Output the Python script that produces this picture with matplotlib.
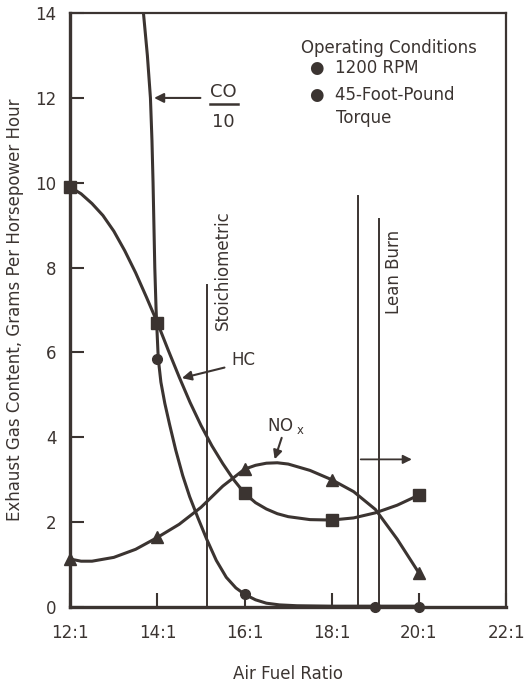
import matplotlib
matplotlib.use("Agg")
import matplotlib.pyplot as plt

plt.rcParams['font.family'] = ['DejaVu Sans']
plt.rcParams['mathtext.default'] = 'regular'
ink = '#3b3431'

# measured points (air fuel ratio, grams per hp-hr)
hc_x = [12, 14, 16, 18, 20]
hc_y = [9.9, 6.7, 2.68, 2.05, 2.64]
nox_x = [12, 14, 16, 18, 20]
nox_y = [1.13, 1.64, 3.25, 3.0, 0.8]
co_x = [14, 16, 19, 20]
co_y = [5.85, 0.3, 0.0, 0.0]

# curves
hc_cx = [12, 12.25, 12.5, 12.75, 13, 13.25, 13.5, 13.75, 14, 14.25, 14.5, 14.75, 15,
         15.25, 15.5, 15.75, 16, 16.25, 16.5, 16.75, 17, 17.5, 18, 18.5, 19, 19.5, 20]
hc_cy = [9.9, 9.74, 9.51, 9.23, 8.86, 8.4, 7.88, 7.3, 6.7, 6.05, 5.42, 4.82, 4.28,
         3.8, 3.38, 3.0, 2.68, 2.46, 2.31, 2.2, 2.13, 2.06, 2.05, 2.1, 2.22, 2.4, 2.64]
nox_cx = [12, 12.25, 12.5, 13, 13.5, 14, 14.5, 15, 15.5, 16, 16.25, 16.5, 16.75, 17,
          17.5, 18, 18.5, 19, 19.5, 20]
nox_cy = [1.13, 1.08, 1.08, 1.17, 1.36, 1.64, 1.95, 2.35, 2.85, 3.25, 3.34, 3.39, 3.4,
          3.37, 3.22, 3.0, 2.72, 2.3, 1.6, 0.8]
co_cx = [13.68, 13.77, 13.84, 13.875, 13.9, 13.92, 13.94, 13.97, 14.0, 14.02, 14.08,
         14.17, 14.28, 14.42, 14.58, 14.74, 14.93, 15.13, 15.35, 15.58, 15.8, 16.0,
         16.25, 16.5, 16.8, 17.2, 18, 19, 20]
co_cy = [14, 13, 12, 11, 10, 9, 8, 7, 6.3, 5.85, 5.3, 4.8, 4.3, 3.7, 3.1, 2.6, 2.1,
         1.6, 1.1, 0.7, 0.45, 0.3, 0.17, 0.09, 0.05, 0.03, 0.02, 0.02, 0.02]

xticks = [12, 14, 16, 18, 20, 22]
xlabels = ['12:1', '14:1', '16:1', '18:1', '20:1', '22:1']
yticks = [0, 2, 4, 6, 8, 10, 12, 14]

stoich_x = 15.13
lean_x = [18.6, 19.08]
lean_top = [9.7, 9.14]

fig = plt.figure(figsize=(5.24, 6.89), dpi=100)
ax = fig.add_axes([0.134, 0.119, 0.832, 0.862])

ax.plot(hc_cx, hc_cy, color=ink, lw=2.2)
ax.plot(nox_cx, nox_cy, color=ink, lw=2.2)
ax.plot(co_cx, co_cy, color=ink, lw=2.2)
ax.plot(hc_x, hc_y, 's', color=ink, ms=9, clip_on=False)
ax.plot(nox_x, nox_y, '^', color=ink, ms=8.5, clip_on=False)
ax.plot(co_x, co_y, 'o', color=ink, ms=7, clip_on=False)

# reference lines
ax.plot([stoich_x, stoich_x], [0, 7.6], color=ink, lw=1.4)
for lx, lt in zip(lean_x, lean_top):
    ax.plot([lx, lx], [0, lt], color=ink, lw=1.4)
ax.annotate('', xy=(19.9, 3.48), xytext=(lean_x[0], 3.48),
            arrowprops=dict(arrowstyle='-|>', color=ink, lw=1.3, mutation_scale=13))

ax.text(stoich_x + 0.37, 7.95, 'Stoichiometric', rotation=90, ha='center', va='center',
        fontsize=12, color=ink)
ax.text(lean_x[1] + 0.35, 7.9, 'Lean Burn', rotation=90, ha='center', va='center',
        fontsize=12, color=ink)

# labels on curves
ax.text(15.52, 12.14, 'CO', ha='center', va='center', fontsize=13, color=ink)
ax.plot([15.2, 15.86], [11.85, 11.85], color=ink, lw=1.8)
ax.text(15.52, 11.43, '10', ha='center', va='center', fontsize=13, color=ink)
ax.annotate('', xy=(13.86, 12.0), xytext=(15.05, 12.0),
            arrowprops=dict(arrowstyle='-|>', color=ink, lw=1.5, mutation_scale=14))

ax.text(15.98, 5.82, 'HC', ha='center', va='center', fontsize=12, color=ink)
ax.annotate('', xy=(14.5, 5.38), xytext=(15.6, 5.66),
            arrowprops=dict(arrowstyle='-|>', color=ink, lw=1.5, mutation_scale=14))

ax.text(16.95, 4.27, r'NO$_{\ x}$', ha='center', va='center', fontsize=12, color=ink)
ax.annotate('', xy=(16.67, 3.42), xytext=(16.87, 4.05),
            arrowprops=dict(arrowstyle='-|>', color=ink, lw=1.5, mutation_scale=13))

# operating conditions text
ax.text(17.29, 13.17, 'Operating Conditions', ha='left', va='center', fontsize=12, color=ink)
ax.text(17.5, 12.7, '\u25cf  1200 RPM', ha='left', va='center', fontsize=12, color=ink)
ax.text(17.5, 12.07, '\u25cf  45-Foot-Pound', ha='left', va='center', fontsize=12, color=ink)
ax.text(18.09, 11.52, 'Torque', ha='left', va='center', fontsize=12, color=ink)

ax.set_xlim(12, 22)
ax.set_ylim(0, 14)
ax.set_xticks(xticks)
ax.set_xticklabels(xlabels)
ax.set_yticks(yticks)
ax.tick_params(direction='in', length=10, width=1.5, colors=ink, labelsize=12)
ax.tick_params(axis='x', pad=12)
ax.tick_params(axis='y', pad=10)
for s in ax.spines.values():
    s.set_color(ink)
    s.set_linewidth(1.6)
ax.spines['left'].set_linewidth(2.4)
ax.spines['bottom'].set_linewidth(2.4)

ax.set_xlabel('Air Fuel Ratio', fontsize=12, color=ink, labelpad=17)
ax.set_ylabel('Exhaust Gas Content, Grams Per Horsepower Hour', fontsize=12, color=ink,
              labelpad=8)

fig.savefig('out.png', dpi=100)
